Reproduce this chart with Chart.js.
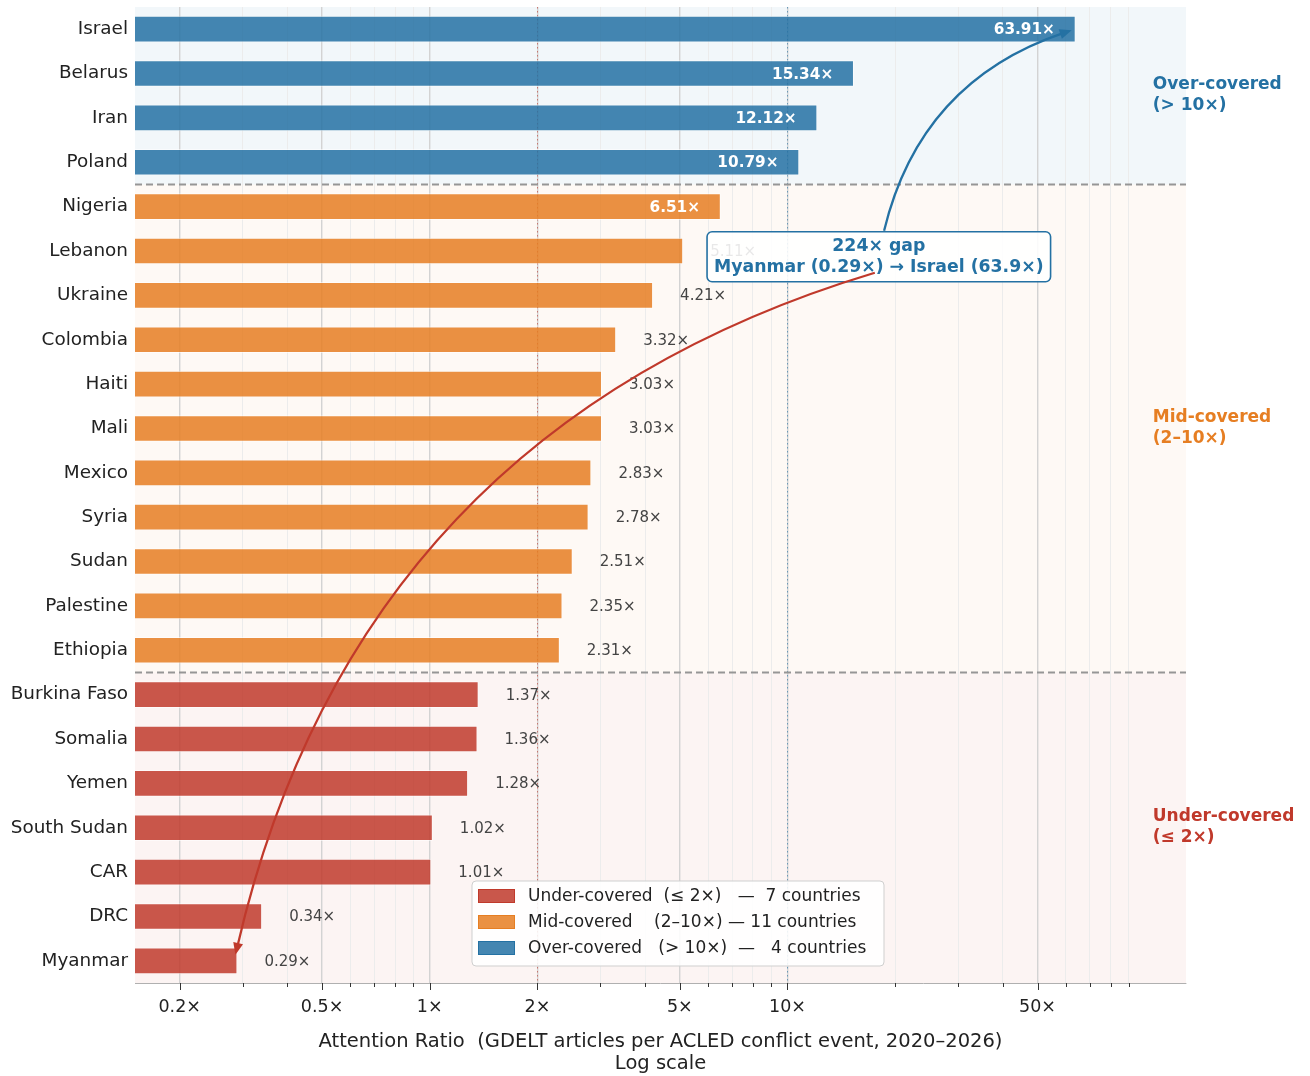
<!DOCTYPE html>
<html>
<head>
<meta charset="utf-8">
<script src="https://cdn.jsdelivr.net/npm/chart.js@4.4.1/dist/chart.umd.min.js"></script>
<style>
  html, body { margin: 0; padding: 0; background: #fff; }
  #wrap { width: 1310px; height: 1076px; }
</style>
</head>
<body>
<div id="wrap"><canvas id="chart" width="1310" height="1076"></canvas></div>
<script>
// data
const countries = ["Israel", "Belarus", "Iran", "Poland", "Nigeria", "Lebanon", "Ukraine", "Colombia",
  "Haiti", "Mali", "Mexico", "Syria", "Sudan", "Palestine", "Ethiopia", "Burkina Faso", "Somalia",
  "Yemen", "South Sudan", "CAR", "DRC", "Myanmar"];
const ratios = [63.91, 15.34, 12.12, 10.79, 6.51, 5.11, 4.21, 3.32, 3.03, 3.03, 2.83, 2.78, 2.51,
  2.35, 2.31, 1.37, 1.36, 1.28, 1.02, 1.01, 0.34, 0.29];
const majorTicks = [0.2, 0.5, 1, 2, 5, 10, 50];
const minorTicks = [0.3, 0.4, 0.6, 0.7, 0.8, 0.9, 3, 4, 6, 7, 8, 9, 20, 30, 40, 60, 70, 80, 90];
const thresholds = [2, 10];
const groupNames = ["Under-covered", "Mid-covered", "Over-covered"];
const groupRanges = ["(≤ 2×)", "(2–10×)", "(> 10×)"];
const legendLabels = ["Under-covered  (≤ 2×)   —  7 countries", "Mid-covered    (2–10×) — 11 countries", "Over-covered   (> 10×)  —   4 countries"];
const gapTitle = "224× gap";
const gapText = "Myanmar (0.29×) → Israel (63.9×)";
const xTitle = ["Attention Ratio  (GDELT articles per ACLED conflict event, 2020–2026)", "Log scale"];

const COLORS = ["#C0392B", "#E67E22", "#2471A3"];
const BAND_ALPHA = [0.055, 0.045, 0.06];
const FONT = "'DejaVu Sans', 'Noto Sans', sans-serif";

const groupOf = (v) => (v > thresholds[1] ? 2 : v > thresholds[0] ? 1 : 0);
const allTicks = [...majorTicks, ...minorTicks].sort((a, b) => a - b);
const fmtX = (v) => `${v}×`;

function rgba(hex, a) {
  const n = parseInt(hex.slice(1), 16);
  return `rgba(${(n >> 16) & 255},${(n >> 8) & 255},${n & 255},${a})`;
}

// arc3-like curved arrow from p0 to p2, only the part after the curve's y passes yStart is drawn
function drawArrow(ctx, p0, p2, rad, color, yStart) {
  const dx = p2.x - p0.x, dy = p2.y - p0.y;
  const c = { x: (p0.x + p2.x) / 2 - rad * dy, y: (p0.y + p2.y) / 2 + rad * dx };
  const at = (t) => ({
    x: (1 - t) * (1 - t) * p0.x + 2 * t * (1 - t) * c.x + t * t * p2.x,
    y: (1 - t) * (1 - t) * p0.y + 2 * t * (1 - t) * c.y + t * t * p2.y
  });
  let lo = 0, hi = 0.5;
  const up = p2.y < p0.y;
  for (let k = 0; k < 40; k++) {
    const m = (lo + hi) / 2;
    const yy = at(m).y;
    if (up ? yy > yStart : yy < yStart) lo = m; else hi = m;
  }
  const t0 = lo;
  const s = at(t0);
  const c2 = { x: (1 - t0) * c.x + t0 * p2.x, y: (1 - t0) * c.y + t0 * p2.y };
  const ang = Math.atan2(p2.y - c2.y, p2.x - c2.x);
  const cos = Math.cos(ang), sin = Math.sin(ang);
  const hl = 12, hw = 5;
  ctx.save();
  ctx.strokeStyle = color;
  ctx.fillStyle = color;
  ctx.lineWidth = 2.3;
  ctx.beginPath();
  ctx.moveTo(s.x, s.y);
  ctx.quadraticCurveTo(c2.x, c2.y, p2.x - hl * 0.7 * cos, p2.y - hl * 0.7 * sin);
  ctx.stroke();
  ctx.beginPath();
  ctx.moveTo(p2.x, p2.y);
  ctx.lineTo(p2.x - hl * cos + hw * sin, p2.y - hl * sin - hw * cos);
  ctx.lineTo(p2.x - hl * cos - hw * sin, p2.y - hl * sin + hw * cos);
  ctx.closePath();
  ctx.fill();
  ctx.restore();
}

function roundRect(ctx, x, y, w, h, r) {
  ctx.beginPath();
  ctx.moveTo(x + r, y);
  ctx.arcTo(x + w, y, x + w, y + h, r);
  ctx.arcTo(x + w, y + h, x, y + h, r);
  ctx.arcTo(x, y + h, x, y, r);
  ctx.arcTo(x, y, x + w, y, r);
  ctx.closePath();
}

// group segments (index ranges) in display order
function segments() {
  const segs = [];
  ratios.forEach((v, i) => {
    const g = groupOf(v);
    if (!segs.length || segs[segs.length - 1].g !== g) segs.push({ g, from: i, to: i });
    else segs[segs.length - 1].to = i;
  });
  return segs;
}

const decor = {
  id: "decor",
  beforeDraw(chart) {
    const { ctx, chartArea: a, scales: { y } } = chart;
    ctx.save();
    ctx.fillStyle = "#fff";
    ctx.fillRect(0, 0, chart.width, chart.height);
    const step = y.getPixelForValue(1) - y.getPixelForValue(0);
    segments().forEach((s) => {
      const top = s.from === 0 ? a.top : y.getPixelForValue(s.from) - step / 2;
      const bot = s.to === ratios.length - 1 ? a.bottom : y.getPixelForValue(s.to) + step / 2;
      ctx.fillStyle = rgba(COLORS[s.g], BAND_ALPHA[s.g]);
      ctx.fillRect(a.left, top, a.right - a.left, bot - top);
    });
    ctx.restore();
  },
  beforeDatasetsDraw(chart) {
    const { ctx, chartArea: a, scales: { x, y } } = chart;
    ctx.save();
    // threshold lines
    [[thresholds[0], COLORS[0]], [thresholds[1], COLORS[2]]].forEach(([t, col]) => {
      const xp = Math.round(x.getPixelForValue(t)) + 0.5;
      ctx.strokeStyle = rgba(col, 0.6);
      ctx.lineWidth = 1;
      ctx.setLineDash([1.5, 2.5]);
      ctx.beginPath();
      ctx.moveTo(xp, a.top);
      ctx.lineTo(xp, a.bottom);
      ctx.stroke();
    });
    // group separators
    const step = y.getPixelForValue(1) - y.getPixelForValue(0);
    ctx.strokeStyle = "#969696";
    ctx.lineWidth = 2;
    ctx.setLineDash([7, 4]);
    segments().slice(1).forEach((s) => {
      const yp = y.getPixelForValue(s.from) - step / 2;
      ctx.beginPath();
      ctx.moveTo(a.left, yp);
      ctx.lineTo(a.right, yp);
      ctx.stroke();
    });
    ctx.restore();
  },
  afterDraw(chart) {
    const { ctx, chartArea: a, scales: { x, y } } = chart;
    ctx.save();

    // tick marks on x axis
    ctx.strokeStyle = "#333";
    ctx.lineWidth = 1;
    x.ticks.forEach((t) => {
      const xp = Math.round(x.getPixelForValue(t.value)) + 0.5;
      const len = majorTicks.includes(t.value) ? 7 : 4;
      ctx.beginPath();
      ctx.moveTo(xp, a.bottom);
      ctx.lineTo(xp, a.bottom + len);
      ctx.stroke();
    });

    // value labels
    ctx.textBaseline = "middle";
    ratios.forEach((v, i) => {
      const yp = y.getPixelForValue(i) + 1;
      if (v > 6) {
        ctx.font = `bold 15.3px ${FONT}`;
        ctx.fillStyle = "#fff";
        ctx.textAlign = "right";
        ctx.fillText(`${v.toFixed(2)}×`, x.getPixelForValue(v * 0.875), yp);
      } else {
        ctx.font = `15px ${FONT}`;
        ctx.fillStyle = "#444";
        ctx.textAlign = "left";
        ctx.fillText(`${v.toFixed(2)}×`, x.getPixelForValue(v * 1.19), yp);
      }
    });

    // group labels on the right
    ctx.font = `bold 17px ${FONT}`;
    ctx.textAlign = "left";
    segments().forEach((s) => {
      const mid = (y.getPixelForValue(s.from) + y.getPixelForValue(s.to)) / 2;
      ctx.fillStyle = COLORS[s.g];
      ctx.fillText(groupNames[s.g], x.getPixelForValue(105), mid - 11);
      ctx.fillText(groupRanges[s.g], x.getPixelForValue(105), mid + 10);
    });

    // gap annotation box
    const cx = x.getPixelForValue(18), cy = y.getPixelForValue(5.13);
    ctx.font = `bold 17.3px ${FONT}`;
    const tw = Math.max(ctx.measureText(gapText).width, ctx.measureText(gapTitle).width);
    const bw = tw + 14, bh = 50;
    roundRect(ctx, cx - bw / 2, cy - bh / 2, bw, bh, 5);
    ctx.fillStyle = "rgba(255,255,255,0.88)";
    ctx.fill();
    ctx.strokeStyle = COLORS[2];
    ctx.lineWidth = 1.6;
    ctx.stroke();
    ctx.fillStyle = COLORS[2];
    ctx.textAlign = "center";
    ctx.fillText(gapTitle, cx, cy - 10);
    ctx.fillText(gapText, cx, cy + 11);

    // arrows from the annotation to both extremes
    drawArrow(ctx, { x: cx, y: cy },
      { x: x.getPixelForValue(ratios[0]) - 4, y: y.getPixelForValue(0) + 1 }, -0.3, COLORS[2], cy - bh / 2 - 1);
    const last = ratios.length - 1;
    const r0 = { x: cx - 4, y: cy + 16 };
    drawArrow(ctx, r0,
      { x: x.getPixelForValue(ratios[last]) - 2, y: y.getPixelForValue(last) - 6 }, 0.29, COLORS[0], r0.y);

    // legend
    const lx = a.left + 337, ly = a.bottom - 102, lw = 412, lh = 85;
    roundRect(ctx, lx, ly, lw, lh, 4);
    ctx.fillStyle = "rgba(255,255,255,0.88)";
    ctx.fill();
    ctx.strokeStyle = "#cfcfcf";
    ctx.lineWidth = 1;
    ctx.stroke();
    ctx.font = `17px ${FONT}`;
    ctx.textAlign = "left";
    legendLabels.forEach((lab, i) => {
      const ry = ly + 15 + i * 26;
      ctx.fillStyle = rgba(COLORS[i], 0.85);
      ctx.fillRect(lx + 6, ry - 7, 37, 14);
      ctx.strokeStyle = COLORS[i];
      ctx.strokeRect(lx + 6.5, ry - 6.5, 36, 13);
      ctx.fillStyle = "#222";
      ctx.fillText(lab, lx + 56, ry + 1);
    });

    // x-axis title
    ctx.font = `19.5px ${FONT}`;
    ctx.textAlign = "center";
    ctx.fillStyle = "#222";
    const tx = (a.left + a.right) / 2;
    ctx.fillText(xTitle[0], tx, 1042);
    ctx.fillText(xTitle[1], tx, 1064);
    ctx.restore();
  }
};

Chart.defaults.font.family = FONT;

new Chart(document.getElementById("chart"), {
  type: "bar",
  data: {
    labels: countries,
    datasets: [{
      data: ratios,
      backgroundColor: ratios.map((v) => rgba(COLORS[groupOf(v)], 0.85)),
      borderColor: "rgba(255,255,255,0.55)",
      borderWidth: 1,
      barPercentage: 0.6,
      categoryPercentage: 1
    }]
  },
  options: {
    indexAxis: "y",
    responsive: false,
    animation: false,
    devicePixelRatio: 1,
    layout: { padding: { left: 0, right: 124, top: 7, bottom: 0 } },
    plugins: { legend: { display: false }, tooltip: { enabled: false } },
    scales: {
      x: {
        type: "logarithmic",
        min: 0.15,
        max: 130,
        afterBuildTicks: (s) => {
          s.ticks = allTicks.map((v) => ({ value: v, major: majorTicks.includes(v) }));
        },
        afterFit: (s) => { s.height = 93; s.paddingLeft = 0; s.paddingRight = 0; },
        grid: {
          drawTicks: false,
          color: (c) => (c.tick && majorTicks.includes(c.tick.value) ? "#d3d3d3" : "#ececec"),
          lineWidth: (c) => (c.tick && majorTicks.includes(c.tick.value) ? 1.4 : 1)
        },
        border: { display: true, color: "#b0b0b0", width: 1 },
        ticks: {
          autoSkip: false,
          maxRotation: 0,
          padding: 14,
          color: "#222",
          font: { size: 17.5 },
          callback: (v) => (majorTicks.includes(v) ? fmtX(v) : "")
        }
      },
      y: {
        type: "category",
        offset: true,
        afterFit: (s) => { s.width = 135; s.paddingTop = 0; s.paddingBottom = 0; },
        grid: { display: false, drawTicks: false },
        border: { display: false },
        ticks: { padding: 7, color: "#222", font: { size: 18.4 } }
      }
    }
  },
  plugins: [decor]
});
</script>
</body>
</html>
